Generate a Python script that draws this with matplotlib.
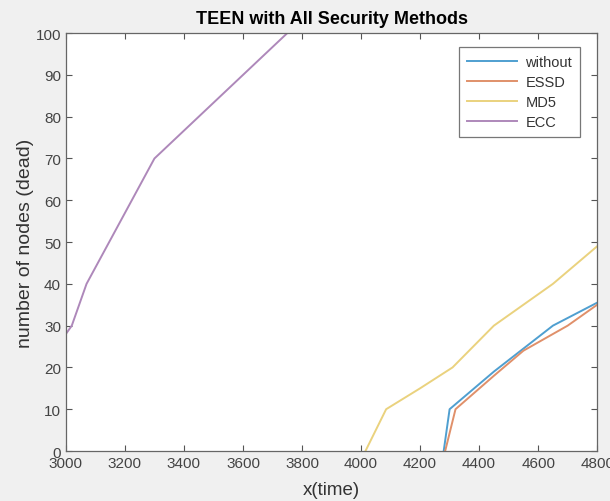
import matplotlib
matplotlib.use("Agg")
import matplotlib.pyplot as plt

plt.rcParams['font.family'] = ['Liberation Sans', 'DejaVu Sans']

# Data
without_x = [4280, 4300, 4450, 4650, 4800]
without_y = [0, 10, 19, 30, 35.5]
essd_x = [4285, 4320, 4450, 4550, 4700, 4800]
essd_y = [0, 10, 18, 24, 30, 35]
md5_x = [4015, 4085, 4200, 4310, 4450, 4650, 4800]
md5_y = [0, 10, 15, 20, 30, 40, 49]
ecc_x = [3000, 3020, 3070, 3300, 3450, 3600, 3750]
ecc_y = [28, 30, 40, 70, 80, 90, 100]

labels = ['without', 'ESSD', 'MD5', 'ECC']
colors = ['#4f9fd0', '#e0906a', '#ead27e', '#ae88ba']

fig = plt.figure(figsize=(6.10, 5.02), dpi=100, facecolor='#f0f0f0')
ax = fig.add_axes([0.108, 0.0996, 0.871, 0.8324])
ax.set_facecolor('white')

for xs, ys, lab, c in zip([without_x, essd_x, md5_x, ecc_x],
                          [without_y, essd_y, md5_y, ecc_y], labels, colors):
    ax.plot(xs, ys, color=c, lw=1.4, label=lab)

ax.set_xlim(3000, 4800)
ax.set_ylim(0, 100)
ax.set_xticks(range(3000, 4801, 200))
ax.set_yticks(range(0, 101, 10))
ax.tick_params(direction='in', top=True, right=True, length=4, width=0.8,
               colors='#555555', labelcolor='#444444', labelsize=11)
for s in ax.spines.values():
    s.set_color('#666666')
    s.set_linewidth(0.9)

ax.set_xlabel('x(time)', fontsize=13.5, color='#333333', labelpad=8)
ax.set_ylabel('number of nodes (dead)', fontsize=14, color='#333333', labelpad=1)
ax.set_title('TEEN with All Security Methods', fontsize=13, fontweight='bold', pad=7)

leg = ax.legend(loc='upper right', bbox_to_anchor=(0.968, 0.966), borderaxespad=0,
                fontsize=10.5, frameon=True, fancybox=False, edgecolor='#555555',
                handlelength=3.4, borderpad=0.55, labelspacing=0.4, handletextpad=0.6)
leg.get_frame().set_linewidth(0.9)
for t in leg.get_texts():
    t.set_color('#333333')

fig.savefig('out.png', dpi=100, facecolor=fig.get_facecolor())
